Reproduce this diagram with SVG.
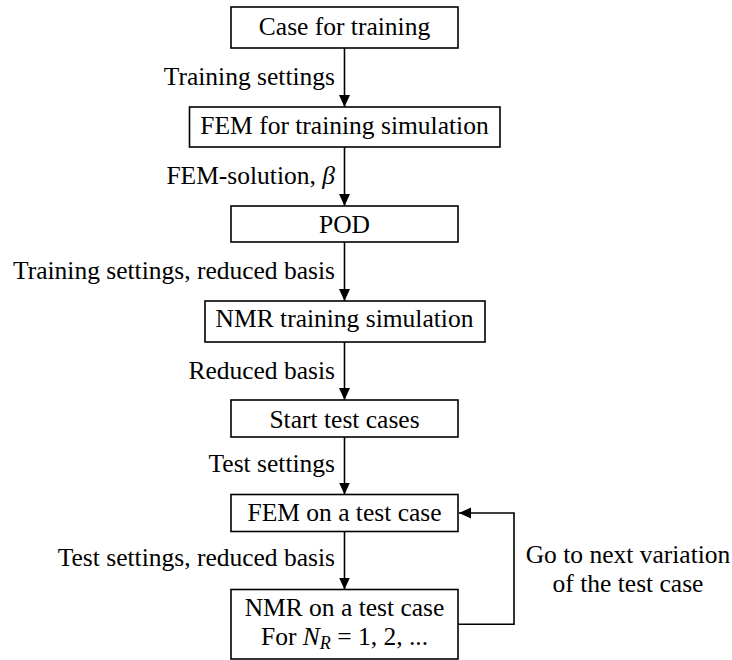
<svg xmlns="http://www.w3.org/2000/svg" width="732" height="660" viewBox="0 0 732 660">
<style>
text{font-family:"Liberation Serif","DejaVu Serif","Noto Serif","Nimbus Roman","FreeSerif","Times New Roman",Times,serif;font-size:25.5px;fill:#000}
.box{fill:#fff;stroke:#000;stroke-width:1.6}
.c{text-anchor:middle}
.lab{text-anchor:end}
.con{fill:none;stroke:#000;stroke-width:1.6}
</style>
<defs>
<marker id="ah" markerUnits="userSpaceOnUse" markerWidth="14" markerHeight="12" refX="12" refY="5.5" orient="auto">
<path d="M0,0 L12,5.5 L0,11 Z" fill="#000"/>
</marker>
</defs>
<rect width="732" height="660" fill="#fff"/>
<g id="connectors">
<line class="con" x1="344.5" y1="48" x2="344.5" y2="107" marker-end="url(#ah)"/>
<line class="con" x1="344.5" y1="147" x2="344.5" y2="206" marker-end="url(#ah)"/>
<line class="con" x1="344.5" y1="242" x2="344.5" y2="301" marker-end="url(#ah)"/>
<line class="con" x1="344.5" y1="342" x2="344.5" y2="400" marker-end="url(#ah)"/>
<line class="con" x1="344.5" y1="437" x2="344.5" y2="494.5" marker-end="url(#ah)"/>
<line class="con" x1="344.5" y1="531.5" x2="344.5" y2="589.5" marker-end="url(#ah)"/>
<path class="con" d="M458,624.3 H514 V513 H459" marker-end="url(#ah)"/>
<text class="lab" x="335" y="85">Training settings</text>
<text class="lab" x="335" y="184">FEM-solution, <tspan font-style="italic">β</tspan></text>
<text class="lab" x="335" y="279">Training settings, reduced basis</text>
<text class="lab" x="335" y="379">Reduced basis</text>
<text class="lab" x="335" y="472">Test settings</text>
<text class="lab" x="335" y="566">Test settings, reduced basis</text>
<text class="c" x="628" y="563">Go to next variation</text>
<text class="c" x="628" y="592">of the test case</text>
</g>
<g id="n1"><rect class="box" x="231" y="7" width="227" height="41"/><text class="c" x="344.5" y="35">Case for training</text></g>
<g id="n2"><rect class="box" x="189.5" y="107" width="310.5" height="40"/><text class="c" x="344.5" y="133.5">FEM for training simulation</text></g>
<g id="n3"><rect class="box" x="231" y="206" width="227" height="36"/><text class="c" x="344.5" y="233">POD</text></g>
<g id="n4"><rect class="box" x="205" y="301" width="280" height="41"/><text class="c" x="344.5" y="327">NMR training simulation</text></g>
<g id="n5"><rect class="box" x="231" y="400" width="227" height="37"/><text class="c" x="344.5" y="428">Start test cases</text></g>
<g id="n6"><rect class="box" x="231" y="494.5" width="227" height="37"/><text class="c" x="344.5" y="521">FEM on a test case</text></g>
<g id="n7"><rect class="box" x="231" y="589.5" width="227" height="69.5"/><text class="c" x="344.5" y="616">NMR on a test case</text><text class="c" x="344.5" y="645">For <tspan font-style="italic">N</tspan><tspan font-style="italic" font-size="18" dy="4">R</tspan><tspan dy="-4"> = 1, 2, ...</tspan></text></g>
</svg>
